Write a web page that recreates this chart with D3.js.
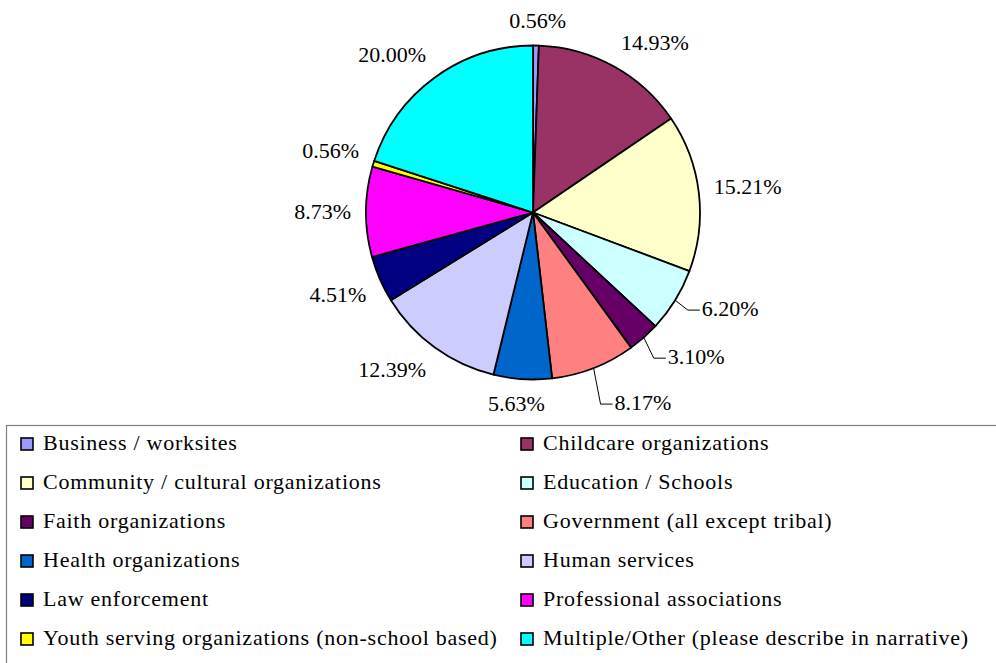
<!DOCTYPE html>
<html lang="en">

<head>
    <meta charset="UTF-8">
    <title>Partner organizations</title>
    <style>
        body { margin: 0; background: #fff; }
    </style>
</head>

<body>
    <svg width="996" height="663" id="svg"></svg>
    <script src="https://d3js.org/d3.v7.js"></script>
    <script>
        const categories = [
            "Business / worksites", "Childcare organizations",
            "Community / cultural organizations", "Education / Schools",
            "Faith organizations", "Government (all except tribal)",
            "Health organizations", "Human services",
            "Law enforcement", "Professional associations",
            "Youth serving organizations (non-school based)", "Multiple/Other (please describe in narrative)"
        ]
        const values = [0.56, 14.93, 15.21, 6.20, 3.10, 8.17, 5.63, 12.39, 4.51, 8.73, 0.56, 20.00]
        const colors = ["#9999FF", "#993366", "#FFFFCC", "#CCFFFF", "#660066", "#FF8080",
            "#0066CC", "#CCCCFF", "#000080", "#FF00FF", "#FFFF00", "#00FFFF"]

        // labels Excel pushed aside and hung on a leader line
        const labelNudge = {
            "Education / Schools": [14, -9],
            "Faith organizations": [14, -1.5],
            "Government (all except tribal)": [15.5, 11]
        }

        const FONT = "'Liberation Serif', 'Times New Roman', Times, serif"
        const svg = d3.select("svg#svg").attr("font-family", FONT)
        const cx = 533, cy = 212.5, R = 167

        const pie = d3.pie().sort(null).value(d => d.value)
        const arcs = pie(categories.map((c, i) => ({ name: c, value: values[i], color: colors[i] })))
        const arc = d3.arc().innerRadius(0).outerRadius(R)

        const g = svg.append("g").attr("transform", `translate(${cx},${cy})`)

        g.selectAll("path.slice").data(arcs).join("path")
            .attr("class", "slice")
            .attr("d", arc)
            .attr("fill", d => d.data.color)
            .attr("stroke", "#000")
            .attr("stroke-width", 1.8)
            .attr("stroke-linejoin", "round")

        // data labels
        const rho = 182
        const clamp = v => Math.max(-1, Math.min(1, v))
        const labels = g.selectAll("text.lbl").data(arcs).join("text")
            .attr("class", "lbl")
            .attr("font-family", FONT)
            .attr("font-size", 22)
            .attr("text-anchor", "middle")
            .text(d => d.data.value.toFixed(2) + "%")

        labels.each(function (d) {
            const a = (d.startAngle + d.endAngle) / 2
            const ux = Math.sin(a), uy = -Math.cos(a)
            const w = this.getComputedTextLength(), h = 20
            let x = rho * ux + w / 2 * clamp(ux * 3)
            let y = rho * uy + h / 2 * clamp(uy * 3)
            const nudge = labelNudge[d.data.name]
            if (nudge) {
                x += nudge[0]
                y += nudge[1]
                const left = x - w / 2
                g.append("path")
                    .attr("d", d3.line()([[R * ux, R * uy], [left - 14, y + 1], [left - 2, y + 1]]))
                    .attr("fill", "none")
                    .attr("stroke", "#000")
                    .attr("stroke-width", 1)
            }
            d3.select(this).attr("x", x).attr("y", y + 7)
        })

        // legend
        const legend = svg.append("g")
        legend.append("rect")
            .attr("x", 6.5).attr("y", 425.5)
            .attr("width", 1100).attr("height", 400)
            .attr("fill", "none")
            .attr("stroke", "#808080")
            .attr("stroke-width", 1.2)

        const colX = [21, 521]
        const rowY = i => 444 + i * 39
        const items = legend.selectAll("g.item").data(arcs).join("g")
            .attr("class", "item")
            .attr("transform", (d, i) => `translate(${colX[i % 2]},${rowY(Math.floor(i / 2))})`)

        items.append("rect")
            .attr("x", 0).attr("y", -6)
            .attr("width", 12).attr("height", 12)
            .attr("fill", d => d.data.color)
            .attr("stroke", "#000")
            .attr("stroke-width", 1.6)

        items.append("text")
            .attr("x", 22).attr("y", 6)
            .attr("font-family", FONT)
            .attr("font-size", 22)
            .attr("letter-spacing", 0.75)
            .text(d => d.data.name)
    </script>
</body>

</html>
